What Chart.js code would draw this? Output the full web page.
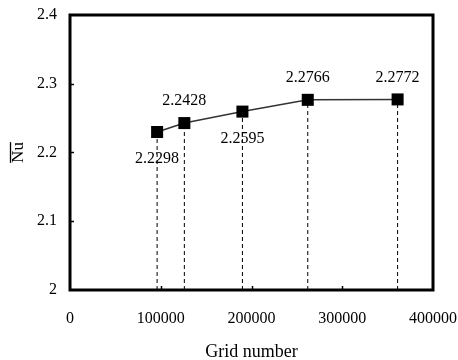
<!DOCTYPE html>
<html>
<head>
<meta charset="utf-8">
<script src="https://cdn.jsdelivr.net/npm/chart.js@4/dist/chart.umd.min.js"></script>
<style>
html,body{margin:0;padding:0;background:#fff;}
#wrap{width:458px;height:360px;position:relative;}
</style>
</head>
<body>
<div id="wrap"><canvas id="c"></canvas></div>
<script>
const xValues = [96000, 126000, 190000, 262000, 361000];
const nuValues = [2.2298, 2.2428, 2.2595, 2.2766, 2.2772];
const valueLabels = ['2.2298', '2.2428', '2.2595', '2.2766', '2.2772'];
const labelSides = ['below', 'above', 'below', 'above', 'above'];
const xTicks = [0, 100000, 200000, 300000, 400000];
const yTicks = [2, 2.1, 2.2, 2.3, 2.4];
const xTitle = 'Grid number';
const yTitle = 'Nu';

const FONT = '"Liberation Serif", "Times New Roman", serif';

const mainData = xValues.map((x, i) => ({x: x, y: nuValues[i]}));
const dropDatasets = xValues.map((x, i) => ({
  data: [{x: x, y: yTicks[0]}, {x: x, y: nuValues[i]}],
  borderColor: '#000',
  borderWidth: 1,
  borderDash: [4, 3],
  pointRadius: 0,
  fill: false
}));

const decor = {
  id: 'decor',
  afterDraw(chart) {
    const ctx = chart.ctx;
    const a = chart.chartArea;
    const xs = chart.scales.x, ys = chart.scales.y;
    ctx.save();
    ctx.strokeStyle = '#000';
    ctx.lineWidth = 1.5;
    yTicks.slice(1, -1).forEach(v => {
      const py = Math.round(ys.getPixelForValue(v)) + 0.5;
      ctx.beginPath(); ctx.moveTo(a.left, py); ctx.lineTo(a.left + 4, py); ctx.stroke();
    });
    xTicks.slice(1, -1).forEach(v => {
      const px = Math.round(xs.getPixelForValue(v)) + 0.5;
      ctx.beginPath(); ctx.moveTo(px, a.bottom); ctx.lineTo(px, a.bottom - 4); ctx.stroke();
    });
    ctx.lineWidth = 3;
    ctx.strokeRect(a.left, a.top, a.right - a.left, a.bottom - a.top);
    ctx.fillStyle = '#000';
    ctx.font = '16px ' + FONT;
    ctx.textAlign = 'center';
    ctx.textBaseline = 'middle';
    valueLabels.forEach((t, i) => {
      const px = xs.getPixelForValue(xValues[i]);
      const py = ys.getPixelForValue(nuValues[i]);
      const dy = labelSides[i] === 'above' ? -22 : 27;
      ctx.fillText(t, px, py + dy);
    });
    ctx.font = '17px ' + FONT;
    const w = ctx.measureText(yTitle).width;
    const cy = (a.top + a.bottom) / 2;
    ctx.lineWidth = 1.3;
    ctx.beginPath();
    ctx.moveTo(10.5, cy - w / 2);
    ctx.lineTo(10.5, cy + w / 2);
    ctx.stroke();
    ctx.restore();
  }
};

new Chart(document.getElementById('c'), {
  type: 'line',
  data: {
    datasets: [{
      data: mainData,
      borderColor: '#333',
      borderWidth: 1.5,
      pointStyle: 'rect',
      pointRadius: 8.5,
      pointBackgroundColor: '#000',
      pointBorderColor: '#000',
      pointBorderWidth: 0,
      fill: false,
      tension: 0
    }].concat(dropDatasets)
  },
  options: {
    responsive: true,
    maintainAspectRatio: false,
    animation: false,
    layout: {padding: {left: 0, top: 15, right: 25, bottom: 0}},
    plugins: {legend: {display: false}, tooltip: {enabled: false}},
    scales: {
      x: {
        type: 'linear',
        min: xTicks[0], max: xTicks[xTicks.length - 1],
        afterBuildTicks: s => { s.ticks = xTicks.map(v => ({value: v})); },
        afterFit: s => { s.height = 70; s.paddingLeft = 0; s.paddingRight = 0; },
        grid: {display: false, drawTicks: false},
        border: {display: false},
        ticks: {
          color: '#000',
          font: {family: FONT, size: 16},
          padding: 19,
          maxRotation: 0,
          callback: v => String(v)
        },
        title: {
          display: true,
          text: xTitle,
          color: '#000',
          font: {family: FONT, size: 18, lineHeight: 1},
          padding: {top: 0, bottom: -1}
        }
      },
      y: {
        type: 'linear',
        min: yTicks[0], max: yTicks[yTicks.length - 1],
        afterBuildTicks: s => { s.ticks = yTicks.map(v => ({value: v})); },
        afterFit: s => { s.width = 70; s.paddingTop = 0; s.paddingBottom = 0; },
        grid: {display: false, drawTicks: false},
        border: {display: false},
        ticks: {
          color: '#000',
          font: {family: FONT, size: 16},
          padding: 13,
          callback: v => String(v)
        },
        title: {
          display: true,
          text: yTitle,
          color: '#000',
          font: {family: FONT, size: 17, lineHeight: 1},
          padding: {top: 10, bottom: 0}
        }
      }
    }
  },
  plugins: [decor]
});
</script>
</body>
</html>
